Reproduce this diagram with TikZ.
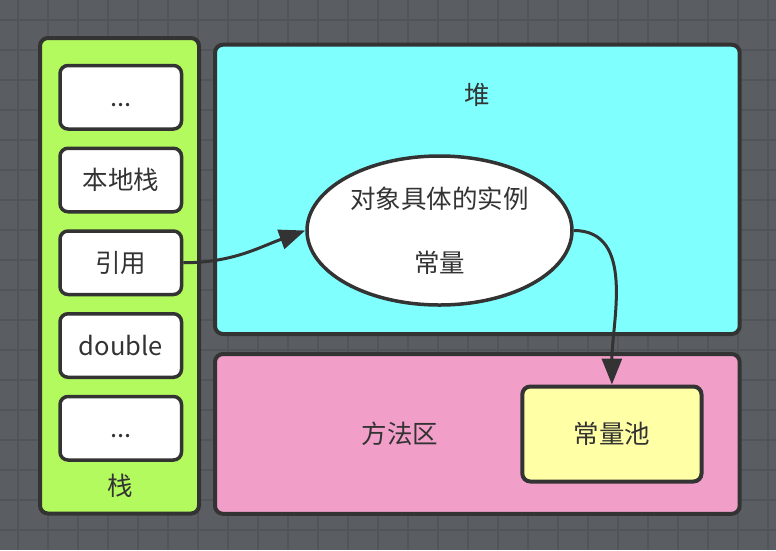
\documentclass[tikz,border=0pt]{standalone}
\usepackage{fontspec}
\setmainfont{Noto Sans CJK SC}
\usepackage{xcolor}
\usepackage{tikz}
\usetikzlibrary{shapes.geometric,arrows.meta}
\definecolor{board}{RGB}{90,94,99}
\definecolor{gridline}{RGB}{81,85,89}
\definecolor{edge}{RGB}{51,51,51}
\definecolor{stackgreen}{RGB}{178,250,94}
\definecolor{heapcyan}{RGB}{128,255,255}
\definecolor{methodpink}{RGB}{241,158,201}
\definecolor{poolyellow}{RGB}{255,255,166}
\tikzstyle{area} = [draw=edge,line width=4pt,rectangle,rounded corners=8pt,inner sep=0pt]
\tikzstyle{cell} = [draw=edge,fill=white,line width=3.5pt,rectangle,rounded corners=8pt,minimum width=121.5pt,minimum height=63.5pt,inner sep=0pt,text height=22pt,text depth=3pt]
\tikzstyle{txt} = [font=\fontsize{25.5}{30}\selectfont,text=edge]
\tikzstyle{arrow} = [line width=3pt,draw=edge,-{Triangle[length=26pt,width=20pt]}]

\begin{document}
\begin{tikzpicture}[x=1pt,y=-1pt]
            % basics
            \useasboundingbox (0,0) rectangle (776,550);
            \fill[board] (0,0) rectangle (776,550);
            \foreach \x in {18,48,...,768} \draw[gridline,line width=2pt] (\x,0) -- (\x,550);
            \foreach \y in {20,50,...,550} \draw[gridline,line width=2pt] (0,\y) -- (776,\y);
            % stack
            \node[area,fill=stackgreen,minimum width=159pt,minimum height=475.5pt] (stack) at (119.5,275.75) {};
            \node[cell,txt] (s1) at (120.75,97.25) {...};
            \node[cell,txt] (s2) at (120.75,180) {本地栈};
            \node[cell,txt] (s3) at (120.75,262.75) {引用};
            \node[cell,txt] (s4) at (120.75,345.5) {double};
            \node[cell,txt] (s5) at (120.75,428.25) {...};
            \node[txt] (stacktitle) at (120.5,486) {栈};
            % heap
            \node[area,fill=heapcyan,minimum width=524.7pt,minimum height=289.3pt] (heap) at (477.35,189.35) {};
            \node[txt] (heaptitle) at (477,95) {堆};
            \node[draw=edge,fill=white,line width=3.5pt,ellipse,minimum width=265pt,minimum height=149pt,inner sep=0pt,txt,align=center] (obj) at (439.5,230.5) {对象具体的实例\\[34pt]常量};
            % method area
            \node[area,fill=methodpink,minimum width=524.7pt,minimum height=159.8pt] (method) at (477.35,433.9) {};
            \node[txt] (methodtitle) at (400,434) {方法区};
            \node[area,fill=poolyellow,minimum width=179.2pt,minimum height=95pt,txt] (pool) at (611.9,434) {常量池};
            \draw[arrow] (s3.east) to[out=0,in=200] (obj.west);
            \draw[arrow] (obj.east) to[out=0,in=90] (pool.north);
        \end{tikzpicture}
\end{document}
